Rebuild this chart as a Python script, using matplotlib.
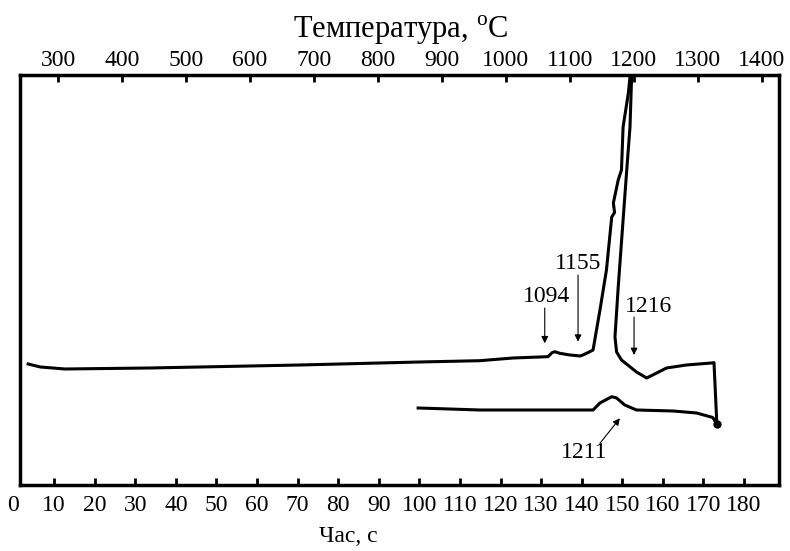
import matplotlib.pyplot as plt

plt.rcParams['font.family'] = ['Liberation Serif', 'DejaVu Serif']
plt.rcParams['mathtext.fontset'] = 'custom'
plt.rcParams['mathtext.rm'] = 'Liberation Serif'

# heating branch: time (s) / DTA signal (arbitrary units)
heat_t = [3.6, 6.6, 12.7, 33.6, 70.6, 100.1, 114.9, 123.1, 131.7, 132.7, 133.4, 134.6,
          137.1, 139.6, 140.3, 142.0, 142.8, 144.5, 146.1, 147.4, 148.1, 147.8, 149.0,
          149.8, 150.2, 151.5, 151.9, 152.4]
heat_v = [12.1, 11.8, 11.6, 11.7, 12.0, 12.3, 12.43, 12.7, 12.83, 13.23, 13.33, 13.17,
          13.0, 12.9, 13.0, 13.33, 13.5, 17.5, 21.5, 26.8, 27.25, 28.2, 30.5,
          31.5, 35.8, 39.2, 40.8, 42.5]

# return branch from the top, then the cooling trace back to 100 s
cool_t = [152.9, 152.3, 151.9, 151.1, 150.2, 149.0, 148.2, 148.6, 149.8, 153.5, 156.0,
          157.5, 160.9, 165.8, 172.0, 172.6, 173.3,
          172.3, 168.3, 162.5, 153.5, 150.6, 148.6, 147.4, 144.5, 142.8, 114.9, 99.7]
cool_v = [42.5, 40.8, 35.8, 31.5, 26.5, 19.8, 14.8, 13.3, 12.5, 11.3, 10.7,
          11.0, 11.7, 12.0, 12.2, 12.23, 6.1,
          6.75, 7.2, 7.4, 7.5, 8.0, 8.7, 8.83, 8.2, 7.5, 7.5, 7.7]

# peak labels: text, text position, arrow tail, arrow head
peak_labels = ['1094', '1155', '1216', '1211']
label_xy = [(131.4, 18.8), (139.1, 22.1), (156.4, 17.8), (140.5, 3.2)]
arrow_from = [(130.9, 17.7), (139.1, 21.0), (152.9, 16.8), (144.5, 4.17)]
arrow_to = [(130.9, 14.17), (139.1, 14.33), (152.9, 13.0), (149.4, 6.67)]

time_ticks = list(range(10, 190, 10))
temp_ticks = list(range(300, 1500, 100))


def t_to_temp(t):
    return 230.3 + 6.344 * t


def temp_to_t(temp):
    return (temp - 230.3) / 6.344


fig = plt.figure(figsize=(7.9, 5.51), dpi=100)
ax = fig.add_axes([0.0253, 0.1198, 0.9607, 0.7441])

ax.plot(heat_t, heat_v, color='black', lw=2.2, solid_joinstyle='round')
ax.plot(cool_t, cool_v, color='black', lw=2.2, solid_joinstyle='round')
ax.plot(cool_t[16], cool_v[16], 'o', color='black', ms=5)

for lab, txy, a0, a1 in zip(peak_labels, label_xy, arrow_from, arrow_to):
    ax.text(txy[0], txy[1], lab, ha='center', va='center', fontsize=17)
    ax.annotate('', xy=a1, xytext=a0,
                arrowprops=dict(arrowstyle='-|>', color='black', lw=0.8,
                                mutation_scale=10, shrinkA=0, shrinkB=0))

ax.set_xlim(1.6, 188.6)
ax.set_ylim(0, 41)
ax.set_yticks([])
ax.set_xticks(time_ticks)
ax.tick_params(axis='x', direction='in', length=5, width=2, labelsize=17, pad=7)
for s in ax.spines.values():
    s.set_linewidth(2.5)

# the 0 s label sits left of the frame
ax.annotate('0', xy=(0, 0), xycoords=('data', 'axes fraction'), xytext=(0, -7),
            textcoords='offset points', ha='center', va='top', fontsize=17,
            annotation_clip=False)

top = ax.secondary_xaxis('top', functions=(t_to_temp, temp_to_t))
top.set_xticks(temp_ticks)
top.tick_params(direction='in', length=5, width=2, labelsize=17, pad=3)

fig.text(401 / 790, 1 - 30 / 551, r'Температура, $^{\mathrm{o}}$C',
         ha='center', va='center', fontsize=22)
fig.text(348 / 790, 1 - 537 / 551, 'Час, с', ha='center', va='center', fontsize=17)

fig.savefig('out.png', dpi=100)
